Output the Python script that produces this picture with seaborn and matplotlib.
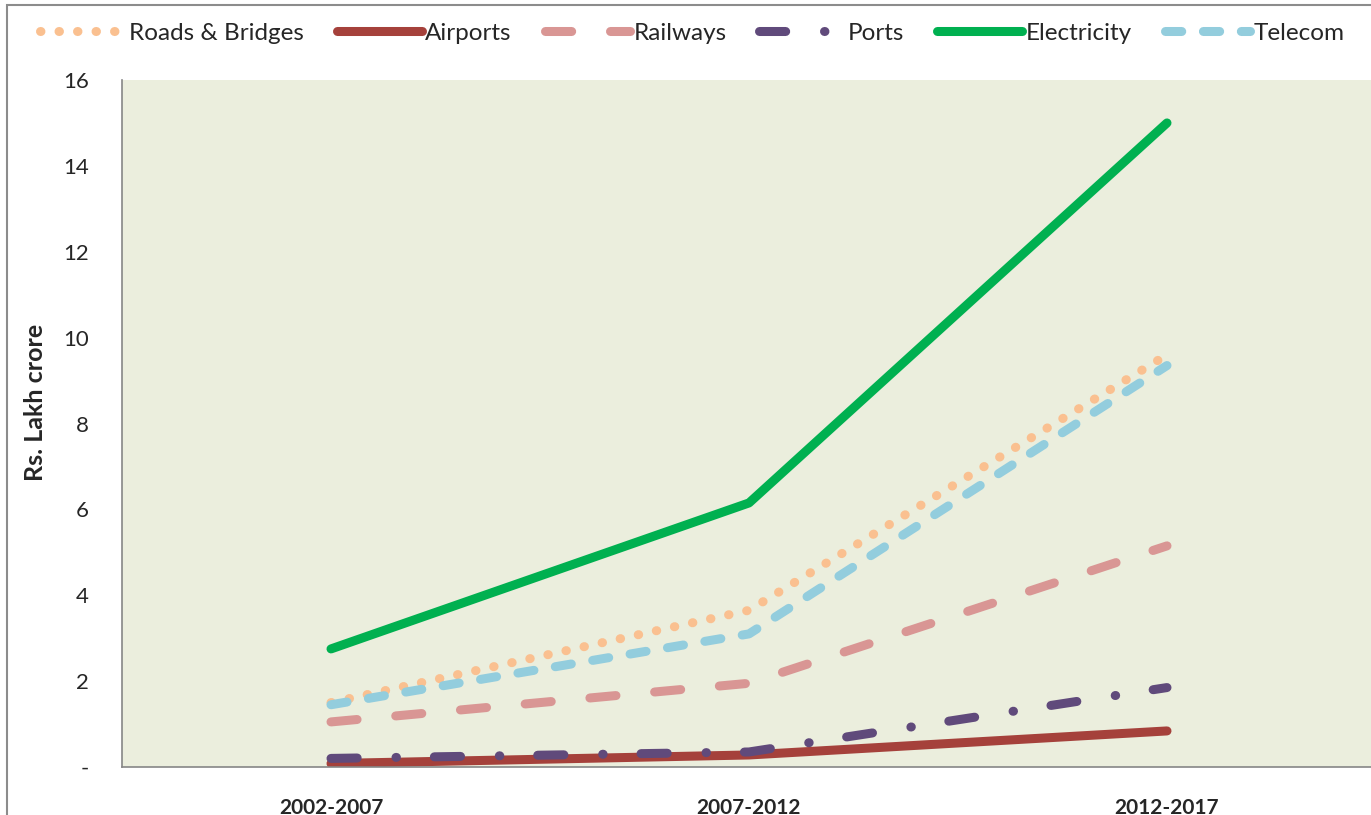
import numpy as np
import pandas as pd
import seaborn as sns
import matplotlib.pyplot as plt
from matplotlib.patches import Rectangle
from matplotlib.ticker import FuncFormatter, FixedLocator

# data (Rs. lakh crore)
periods = ['2002-2007', '2007-2012', '2012-2017']
series = ['Roads & Bridges', 'Airports', 'Railways', 'Ports', 'Electricity', 'Telecom']
roads = [1.5, 3.65, 9.6]
airports = [0.08, 0.28, 0.84]
railways = [1.05, 1.95, 5.15]
ports = [0.2, 0.35, 1.85]
electricity = [2.75, 6.15, 15.0]
telecom = [1.45, 3.1, 9.35]

colors = {'Roads & Bridges': '#FAC090', 'Airports': '#A5413B', 'Railways': '#D99694',
          'Ports': '#604A7B', 'Electricity': '#00B050', 'Telecom': '#93CDDD'}
dashes = {'Roads & Bridges': (0.05, 2.0), 'Airports': '', 'Railways': (2.9, 4.3),
          'Ports': (2.9, 4.3, 0.05, 4.2), 'Electricity': '', 'Telecom': (1.8, 2.4)}

vals = [roads, airports, railways, ports, electricity, telecom]
df = pd.DataFrame({
    'pos': np.tile(np.arange(len(periods)), len(series)),
    'value': np.concatenate(vals),
    'series': np.repeat(series, len(periods)),
})

sns.set_style('white')
plt.rcParams['font.family'] = ['Lato', 'DejaVu Sans']

fig = plt.figure(figsize=(13.71, 8.15), dpi=100)
ax = fig.add_axes([122/1371, 48/815, 1254/1371, 687/815])
ax.set_facecolor('#EBEEDD')

sns.lineplot(data=df, x='pos', y='value', hue='series', style='series',
             palette=colors, dashes=dashes, hue_order=series, style_order=series,
             linewidth=6.5, ax=ax, legend=False)
for line in ax.lines:
    line.set_dash_capstyle('round')
    line.set_solid_capstyle('round')

ax.set_xlim(-0.5, 2.5)
ax.set_ylim(0, 16)
ax.set_yticks(np.arange(0, 17, 2))
ax.yaxis.set_major_formatter(FuncFormatter(lambda v, p: '-' if v == 0 else f'{v:g}'))
ax.set_xticks(np.arange(len(periods)))
ax.set_xticklabels(periods, fontsize=15, fontweight='bold')
ax.xaxis.set_minor_locator(FixedLocator([-0.5, 0.5, 1.5, 2.5]))
ax.tick_params(axis='x', which='major', length=0, pad=22)
ax.tick_params(axis='x', which='minor', length=8, color='#868686', direction='out', width=1)
ax.tick_params(axis='y', length=8, color='#868686', direction='out', width=1, labelsize=16, pad=16)
ax.set_xlabel('')
ax.set_ylabel('Rs. Lakh crore', fontsize=18, fontweight='bold')
ax.yaxis.set_label_coords(-0.06, 0.53)
for s in ['top', 'right']:
    ax.spines[s].set_visible(False)
for s in ['left', 'bottom']:
    ax.spines[s].set_color('#868686')
    ax.spines[s].set_linewidth(1.2)

# legend along the top
handles = []
for name in series:
    h, = ax.plot([], [], color=colors[name], linewidth=6.5,
                 dashes=dashes[name] if dashes[name] else (None, None),
                 solid_capstyle='round', dash_capstyle='round', label=name)
    handles.append(h)
fig.legend(handles=handles, loc='center', bbox_to_anchor=(0.505, 1 - 33/815), ncol=6,
           frameon=False, fontsize=17.5, handlelength=3.5, handletextpad=0.15, columnspacing=1.35)

fig.patches.append(Rectangle((7/1371, -0.05), 1.0, 1.0 - 5/815 + 0.05, transform=fig.transFigure,
                             fill=False, edgecolor='#8C8C8C', linewidth=1.5))

fig.savefig('out.png', dpi=100)
